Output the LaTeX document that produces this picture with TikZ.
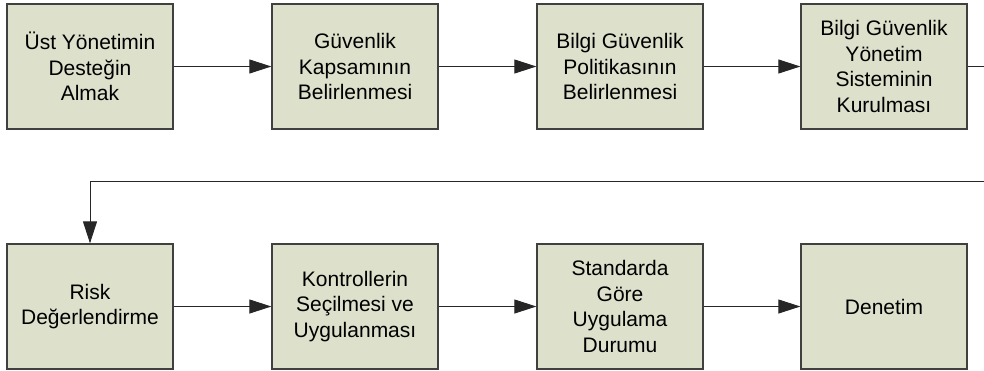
\documentclass[tikz,border=0pt]{standalone}
\usepackage{fontspec}
\setmainfont{Liberation Sans}
\usetikzlibrary{arrows.meta}
\definecolor{boxfill}{RGB}{221,224,203}
\definecolor{boxline}{RGB}{64,64,64}
\begin{document}
\begin{tikzpicture}[x=1pt,y=-1pt,
  stepbox/.style={draw=boxline, line width=1.3pt, fill=boxfill,
    minimum width=166pt, minimum height=125pt, inner sep=0pt,
    align=center, text=black,
    font=\fontsize{21}{25.5}\selectfont},
  flow/.style={draw=black!85, line width=0.9pt,
    -{Triangle[length=22pt,width=14pt]}}]
  \useasboundingbox (0,0) rectangle (984,370);
  \clip (0,0) rectangle (984,370);
  % first row
  \node[stepbox] (s1) at (90,66.5)  {Üst Yönetimin\\Desteğin\\Almak};
  \node[stepbox] (s2) at (355,66.5) {Güvenlik\\Kapsamının\\Belirlenmesi};
  \node[stepbox] (s3) at (620,66.5) {Bilgi Güvenlik\\Politikasının\\Belirlenmesi};
  \node[stepbox] (s4) at (884,66.5) {Bilgi Güvenlik\\Yönetim\\Sisteminin\\Kurulması};
  % second row
  \node[stepbox] (s5) at (90,306.5)  {Risk\\Değerlendirme};
  \node[stepbox] (s6) at (355,306.5) {Kontrollerin\\Seçilmesi ve\\Uygulanması};
  \node[stepbox] (s7) at (620,306.5) {Standarda\\Göre\\Uygulama\\Durumu};
  \node[stepbox] (s8) at (884,306.5) {Denetim};
  % connectors
  \draw[flow] (s1.east) -- (s2.west);
  \draw[flow] (s2.east) -- (s3.west);
  \draw[flow] (s3.east) -- (s4.west);
  \coordinate (turn) at (995,181);
  \draw[flow] (s4.east) -| (turn) -| (s5.north);
  \draw[flow] (s5.east) -- (s6.west);
  \draw[flow] (s6.east) -- (s7.west);
  \draw[flow] (s7.east) -- (s8.west);
\end{tikzpicture}
\end{document}
